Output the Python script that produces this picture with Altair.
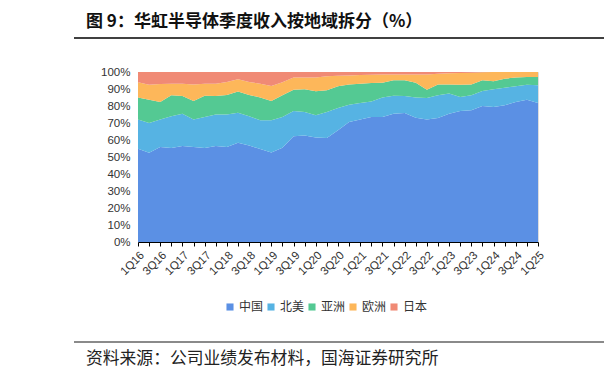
import altair as alt
import pandas as pd

quarters = [f"{q}Q{y}" for y in range(16, 25) for q in range(1, 5)] + ["1Q25"]

china = [54.9, 52.5, 55.9, 55.3, 56.5, 55.9, 55.3, 56.5, 55.9, 58.4, 56.7, 54.7, 52.7, 55.5, 62.2, 62.7,
         61.4, 61.2, 65.7, 70.6, 72.0, 73.5, 73.5, 75.5, 75.9, 73.1, 72.0, 73.0, 75.5, 77.0, 77.5, 80.0,
         79.4, 80.4, 82.4, 83.7, 81.8]
north_america = [17.1, 17.5, 16.1, 18.7, 19.0, 16.1, 18.2, 18.5, 19.1, 17.6, 17.3, 16.9, 18.9, 18.0, 14.8, 13.8,
                 13.1, 15.3, 13.1, 10.2, 9.8, 9.2, 11.5, 10.5, 10.0, 11.9, 12.7, 13.3, 11.8, 8.3, 8.8, 8.8,
                 10.4, 10.4, 9.2, 8.8, 10.4]
asia = [13.0, 13.7, 10.4, 12.3, 10.4, 10.9, 12.5, 10.9, 11.5, 12.6, 12.5, 13.4, 11.3, 12.8, 12.6, 13.3,
        14.2, 12.7, 12.8, 11.9, 11.3, 10.8, 8.7, 9.1, 9.2, 8.7, 4.9, 6.4, 5.4, 7.2, 6.4, 6.3,
        4.7, 5.3, 5.1, 4.5, 4.8]
europe = [8.9, 8.8, 10.5, 6.8, 7.2, 9.8, 7.1, 7.2, 7.6, 7.1, 7.6, 8.1, 8.9, 7.6, 7.1, 6.9,
          8.0, 8.3, 6.2, 5.3, 5.1, 4.9, 4.9, 3.5, 3.5, 4.9, 9.0, 6.3, 6.5, 6.9, 6.9, 4.7,
          5.5, 3.9, 3.3, 3.0, 3.0]
japan = [6.1, 7.5, 7.1, 6.9, 6.9, 7.3, 6.9, 6.9, 5.9, 4.3, 5.9, 6.9, 8.2, 6.1, 3.3, 3.3,
         3.3, 2.5, 2.2, 2.0, 1.8, 1.6, 1.4, 1.4, 1.4, 1.4, 1.4, 1.0, 0.8, 0.6, 0.4, 0.2,
         0.0, 0.0, 0.0, 0.0, 0.0]

series_names = ["中国", "北美", "亚洲", "欧洲", "日本"]
series_values = [china, north_america, asia, europe, japan]
colors = ["#5B90E4", "#56B3E3", "#54C993", "#FDB75A", "#F08A75"]

title_text = "图 9：华虹半导体季度收入按地域拆分（%）"
source_text = "资料来源：公司业绩发布材料，国海证券研究所"

rows = []
for k, (name, vals) in enumerate(zip(series_names, series_values)):
    for i, (q, v) in enumerate(zip(quarters, vals)):
        rows.append({"quarter": q, "series": name, "value": v, "ord": k})
df = pd.DataFrame(rows)

W, H = 400, 170
PAD_L, PAD_T = 130, 64
PAD_R = 596 - PAD_L - W
PAD_B = 360 - PAD_T - H
FONT = "Liberation Sans"
CJK = "Noto Sans CJK SC"

area = alt.Chart(df).mark_area(interpolate="linear", opacity=1).encode(
    x=alt.X("quarter:O", sort=quarters, title=None,
            scale=alt.Scale(type="point", padding=0),
            axis=alt.Axis(labelAngle=-45, labelAlign="right", labelBaseline="top",
                          labelExpr="(substring(datum.value,0,1)=='1' || substring(datum.value,0,1)=='3') ? datum.value : ''",
                          labelFont=FONT, labelFontSize=11.5, labelColor="#333333",
                          labelPadding=3, labelOverlap=False,
                          domainColor="#000000", domainWidth=1, tickColor="#000000",
                          tickSize=4, grid=False)),
    y=alt.Y("value:Q", stack="zero", title=None,
            scale=alt.Scale(domain=[0, 100], nice=False),
            axis=alt.Axis(values=list(range(0, 101, 10)), labelExpr="datum.value + '%'",
                          labelFont=FONT, labelFontSize=11.5, labelColor="#333333",
                          domain=False, ticks=False, grid=False, labelPadding=8)),
    color=alt.Color("series:N", sort=series_names,
                    scale=alt.Scale(domain=series_names, range=colors),
                    legend=alt.Legend(orient="none", legendX=86, legendY=229, direction="horizontal",
                                      title=None, symbolType="square", symbolSize=50,
                                      symbolStrokeWidth=0, labelFont=CJK, labelFontSize=12,
                                      labelColor="#333333", labelOffset=3, columnPadding=1)),
    order=alt.Order("ord:Q", sort="ascending"),
)

title = alt.Chart(pd.DataFrame({"t": [title_text]})).mark_text(
    align="left", baseline="middle", font=CJK, fontSize=17, fontWeight="bold", color="#111111"
).encode(x=alt.value(-52), y=alt.value(-50), text="t:N")

source = alt.Chart(pd.DataFrame({"t": [source_text]})).mark_text(
    align="left", baseline="middle", font=CJK, fontSize=16.8, color="#222222"
).encode(x=alt.value(-52), y=alt.value(287), text="t:N")

top_rule = alt.Chart(pd.DataFrame({"a": [0]})).mark_rule(color="#000000", strokeWidth=1.5).encode(
    x=alt.value(-64), x2=alt.value(W + PAD_R), y=alt.value(-34))
bottom_rule = alt.Chart(pd.DataFrame({"a": [0]})).mark_rule(color="#8a8a8a", strokeWidth=2).encode(
    x=alt.value(-64), x2=alt.value(W + PAD_R), y=alt.value(270))

chart = alt.layer(area, title, source, top_rule, bottom_rule).properties(
    width=W, height=H,
    autosize=alt.AutoSizeParams(type="none"),
    padding={"left": PAD_L, "top": PAD_T, "right": PAD_R, "bottom": PAD_B},
).configure_view(stroke=None).configure(background="white")

chart.save("out.html", embed_options={"renderer": "svg", "actions": False})
